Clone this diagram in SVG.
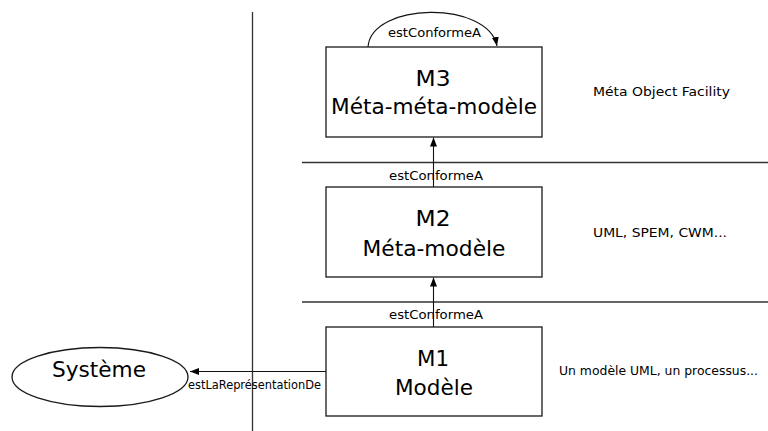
<svg xmlns="http://www.w3.org/2000/svg" width="768" height="431" viewBox="0 0 768 431">
  <style>
    .box { fill: #ffffff; stroke: #1a1a1a; stroke-width: 1.3; }
    .sep { fill: none; stroke: #333333; stroke-width: 1.3; }
    .edge { fill: none; stroke: #111111; stroke-width: 1.1; }
    text { font-family: "DejaVu Sans", "Liberation Sans", sans-serif; fill: #000000; }
    .title { font-size: 21px; text-anchor: middle; }
    .lbl { font-size: 12px; }
    .note { font-size: 13px; }
  </style>
  <defs>
    <marker id="arrow" markerUnits="userSpaceOnUse" markerWidth="10" markerHeight="8" refX="9" refY="3.5" orient="auto">
      <path d="M0,0 L9,3.5 L0,7 z" fill="#000000"/>
    </marker>
  </defs>

  <rect x="0" y="0" width="768" height="431" fill="#ffffff"/>

  <!-- level separators -->
  <g id="separators">
    <line class="sep" x1="252.5" y1="12" x2="252.5" y2="431"/>
    <line class="sep" x1="302" y1="162.5" x2="768" y2="162.5"/>
    <line class="sep" x1="302" y1="302" x2="768" y2="302"/>
  </g>

  <!-- connectors -->
  <g id="connectors">
    <path class="edge" d="M368,47 C371,2 488,0 497,46" marker-end="url(#arrow)"/>
    <line class="edge" x1="433.5" y1="187" x2="433.5" y2="137.5" marker-end="url(#arrow)"/>
    <line class="edge" x1="433.5" y1="327" x2="433.5" y2="277.5" marker-end="url(#arrow)"/>
    <line class="edge" x1="326" y1="371.5" x2="190" y2="371.5" marker-end="url(#arrow)"/>
    <text class="lbl" x="388" y="37" textLength="93" lengthAdjust="spacingAndGlyphs">estConformeA</text>
    <text class="lbl" x="389" y="180" textLength="94" lengthAdjust="spacingAndGlyphs">estConformeA</text>
    <text class="lbl" x="389" y="319" textLength="94" lengthAdjust="spacingAndGlyphs">estConformeA</text>
    <text class="lbl" x="188" y="389" textLength="133" lengthAdjust="spacingAndGlyphs">estLaReprésentationDe</text>
  </g>

  <g id="m3">
    <rect class="box" x="326" y="47" width="216" height="90"/>
    <text class="title" x="433" y="86" textLength="35" lengthAdjust="spacingAndGlyphs">M3</text>
    <text class="title" x="434" y="114" textLength="206" lengthAdjust="spacingAndGlyphs">Méta-méta-modèle</text>
  </g>

  <g id="m2">
    <rect class="box" x="326" y="187" width="216" height="90"/>
    <text class="title" x="433" y="226" textLength="35" lengthAdjust="spacingAndGlyphs">M2</text>
    <text class="title" x="434" y="256" textLength="143" lengthAdjust="spacingAndGlyphs">Méta-modèle</text>
  </g>

  <g id="m1">
    <rect class="box" x="326" y="327" width="216" height="89"/>
    <text class="title" x="433" y="366" textLength="32" lengthAdjust="spacingAndGlyphs">M1</text>
    <text class="title" x="434" y="395" textLength="78" lengthAdjust="spacingAndGlyphs">Modèle</text>
  </g>

  <g id="systeme">
    <ellipse class="box" cx="100" cy="377" rx="88" ry="29.5"/>
    <text class="title" x="99" y="377" textLength="94" lengthAdjust="spacingAndGlyphs">Système</text>
  </g>

  <g id="notes">
    <text class="note" x="593" y="96" textLength="137" lengthAdjust="spacingAndGlyphs">Méta Object Facility</text>
    <text class="note" x="593" y="237" textLength="134" lengthAdjust="spacingAndGlyphs">UML, SPEM, CWM...</text>
    <text class="note" x="559" y="375" textLength="199" lengthAdjust="spacingAndGlyphs">Un modèle UML, un processus...</text>
  </g>
</svg>
